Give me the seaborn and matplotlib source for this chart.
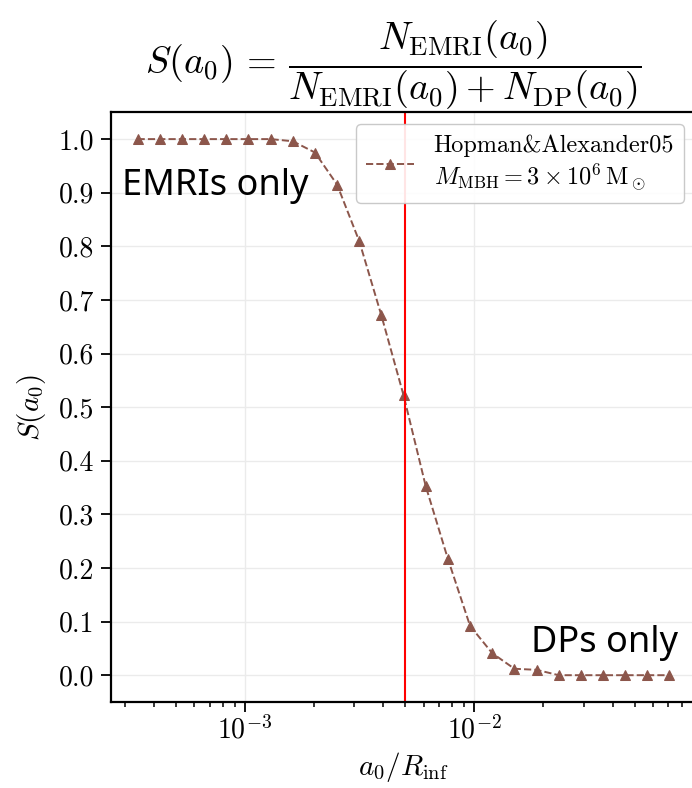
import numpy as np
import pandas as pd
import matplotlib
matplotlib.use("Agg")
import matplotlib.pyplot as plt
import seaborn as sns

# ---- data ----
a0_over_Rinf = [3.40e-4, 4.25e-4, 5.31e-4, 6.63e-4, 8.28e-4, 1.035e-3, 1.293e-3,
                1.615e-3, 2.017e-3, 2.52e-3, 3.15e-3, 3.93e-3, 4.91e-3, 6.13e-3,
                7.66e-3, 9.57e-3, 1.196e-2, 1.494e-2, 1.866e-2, 2.33e-2, 2.91e-2,
                3.64e-2, 4.54e-2, 5.67e-2, 7.08e-2]
S_values = [1.0, 1.0, 1.0, 1.0, 1.0, 1.0, 1.0,
            0.996, 0.975, 0.915, 0.809, 0.671, 0.522, 0.353,
            0.217, 0.092, 0.041, 0.012, 0.010, 0.0, 0.0,
            0.0, 0.0, 0.0, 0.0]
vline_x = 5e-3
series_label = "Hopman&Alexander05\n$M_{\\rm MBH} = 3\\times10^6\\,{\\rm M}_\\odot$"
title_text = (r"$S(a_0)\,=\,\dfrac{N_{\rm EMRI}(a_0)}"
              r"{N_{\rm EMRI}(a_0) + N_{\rm DP}(a_0)}$")
y_ticks = [0.0, 0.1, 0.2, 0.3, 0.4, 0.5, 0.6, 0.7, 0.8, 0.9, 1.0]

df = pd.DataFrame({"a0": a0_over_Rinf, "S": S_values})

sns.set_style("white")
plt.rcParams["font.family"] = ["cmr10", "DejaVu Serif"]
plt.rcParams["mathtext.fontset"] = "cm"
plt.rcParams["axes.formatter.use_mathtext"] = True
plt.rcParams["axes.unicode_minus"] = True
for k in ["text.color", "axes.labelcolor", "xtick.color", "ytick.color"]:
    plt.rcParams[k] = "black"

W, H = 692, 788
fig = plt.figure(figsize=(W / 100, H / 100), dpi=100)
left, right, top, bottom = 111, 696, 112.3, 702
ax = fig.add_axes([left / W, 1 - bottom / H, (right - left) / W, (bottom - top) / H])

brown = "#8c564b"
sns.lineplot(data=df, x="a0", y="S", ax=ax, color=brown, marker="^",
             markersize=6.5, markeredgecolor=brown, linestyle="--",
             linewidth=1.4, label=series_label)
ax.axvline(vline_x, color="red", linewidth=1.5)

ax.set_xscale("log")
ax.margins(x=0.05, y=0.05)
ax.set_yticks(y_ticks)
ax.set_yticklabels([f"{v:.1f}" for v in y_ticks])

ax.grid(True, which="major", color="#ebebeb", linewidth=1.0)
for s in ax.spines.values():
    s.set_color("black")
    s.set_linewidth(1.6)
ax.tick_params(axis="both", which="major", direction="out", length=7, width=1.3,
               labelsize=20, color="black", left=True, bottom=True)
ax.tick_params(axis="x", which="major", pad=3)
ax.tick_params(axis="y", which="major", pad=5)
ax.tick_params(axis="x", which="minor", direction="out", length=3.8, width=1.1,
               color="black", bottom=True)

ax.set_xlabel(r"$a_0/R_{\rm inf}$", fontsize=21, labelpad=4)
ax.set_ylabel(r"$S(a_0)$", fontsize=21, labelpad=8)
ax.set_title(title_text, fontsize=27.5, x=0.482, pad=7)

ax.text(2.9e-4, 0.895, "EMRIs only", fontsize=26, family="Noto Sans",
        va="baseline", ha="left", color="black")
ax.text(1.76e-2, 0.044, "DPs only", fontsize=26, family="Noto Sans",
        va="baseline", ha="left", color="black")

leg = ax.legend(loc="upper right", fontsize=17.5, frameon=True, fancybox=True,
                edgecolor="#c4c4c4", framealpha=0.9, handlelength=2.0)

fig.savefig("out.png", dpi=100)
